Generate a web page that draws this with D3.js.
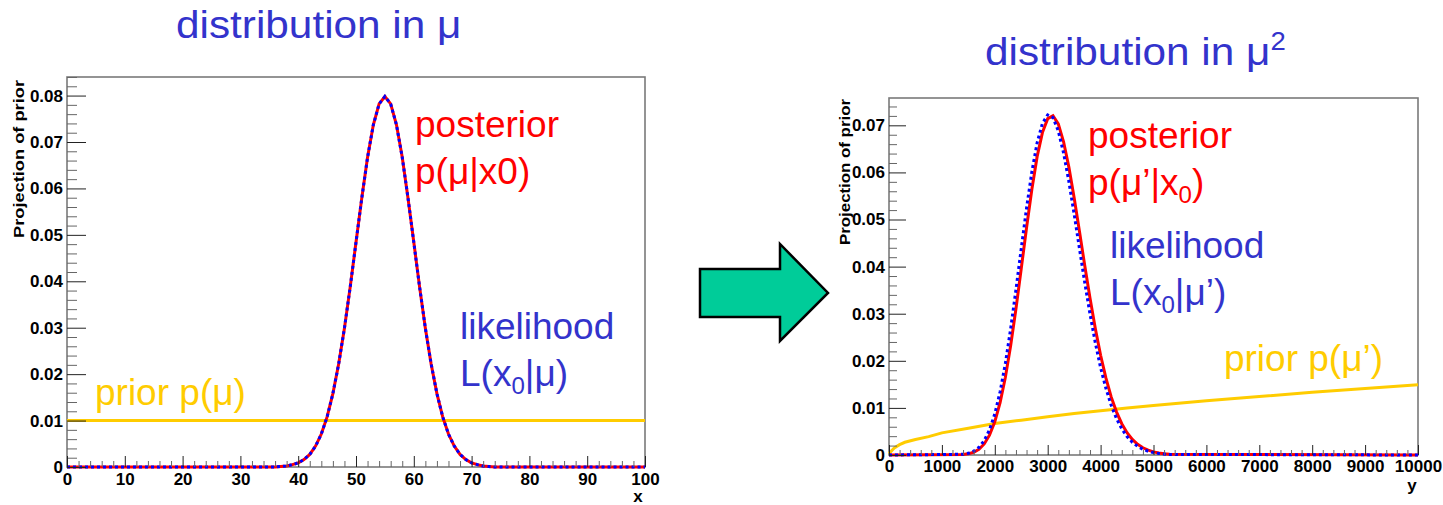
<!DOCTYPE html>
<html><head><meta charset="utf-8">
<script src="https://cdn.jsdelivr.net/npm/d3@7"></script>
<style>
body{margin:0;background:#fff;}
svg text{font-family:"Liberation Sans",Arial,Helvetica,sans-serif;}
</style></head><body>
<svg id="c" width="1443" height="505"></svg>
<script>
// ---------- data: left panel (distribution in mu) ----------
const muX = [0,36,37,38,39,40,41,42,43,44,45,46,47,48,49,50,51,52,53,54,55,56,57,58,59,60,61,62,63,64,65,66,67,68,69,70,71,72,73,74,100];
const posteriorMu = [0,0,0.0001,0.0002,0.0005,0.0009,0.0016,0.0027,0.0045,0.0071,0.0108,0.0158,0.0222,0.0299,0.0388,0.0484,0.0579,0.0667,0.0737,0.0782,0.0798,0.0782,0.0737,0.0667,0.0579,0.0484,0.0388,0.0299,0.0222,0.0158,0.0108,0.0071,0.0045,0.0027,0.0016,0.0009,0.0005,0.0002,0.0001,0,0];
const likelihoodMu = [0,0,0.0001,0.0002,0.0005,0.0009,0.0016,0.0027,0.0045,0.0071,0.0108,0.0158,0.0222,0.0299,0.0388,0.0484,0.0579,0.0667,0.0737,0.0782,0.0798,0.0782,0.0737,0.0667,0.0579,0.0484,0.0388,0.0299,0.0222,0.0158,0.0108,0.0071,0.0045,0.0027,0.0016,0.0009,0.0005,0.0002,0.0001,0,0];
const priorMuX = [0,100];
const priorMu = [0.01,0.01];
const xTicksL = [0,10,20,30,40,50,60,70,80,90,100];
const xTickLabelsL = ["0","10","20","30","40","50","60","70","80","90","100"];
const yTicksL = [0,0.01,0.02,0.03,0.04,0.05,0.06,0.07,0.08];
const yTickLabelsL = ["0","0.01","0.02","0.03","0.04","0.05","0.06","0.07","0.08"];

// ---------- data: right panel (distribution in mu^2) ----------
const mu2X = [0,1400,1500,1600,1700,1800,1900,2000,2100,2200,2300,2400,2500,2600,2700,2800,2900,3000,3100,3200,3300,3400,3500,3600,3700,3800,3900,4000,4100,4200,4300,4400,4500,4600,4700,4800,4900,5000,5100,5200,5300,10000];
const likelihoodMu2 = [0,0.00015,0.00036,0.0008,0.00163,0.00307,0.00535,0.00874,0.01342,0.01947,0.02684,0.03512,0.04385,0.05242,0.0601,0.0663,0.07041,0.07222,0.07163,0.06882,0.06412,0.05807,0.05115,0.04385,0.03663,0.02993,0.02383,0.01854,0.01416,0.01055,0.00774,0.00555,0.0039,0.0027,0.00183,0.00122,0.0008,0.00052,0.00033,0.00021,0.00013,0];
const posteriorMu2 = [0,0.0001,0.00025,0.00058,0.00121,0.00235,0.00421,0.00706,0.0111,0.01649,0.02324,0.03106,0.03959,0.04826,0.05638,0.06335,0.06846,0.07142,0.07202,0.0703,0.06651,0.06113,0.05463,0.0475,0.04023,0.03331,0.02687,0.02117,0.01637,0.01234,0.00916,0.00664,0.00473,0.0033,0.00227,0.00153,0.00102,0.00066,0.00043,0.00027,0.00017,0];
const priorMu2X = [0,100,200,300,500,750,1000,1500,2000,2500,3000,3500,4000,4500,5000,6000,7000,8000,9000,10000];
const priorMu2 = [0.0003,0.0015,0.0022,0.0027,0.0033,0.0039,0.0047,0.0057,0.0067,0.0074,0.0081,0.0088,0.0094,0.01,0.0105,0.0115,0.0124,0.0133,0.0141,0.0149];
const xTicksR = [0,1000,2000,3000,4000,5000,6000,7000,8000,9000,10000];
const xTickLabelsR = ["0","1000","2000","3000","4000","5000","6000","7000","8000","9000","10000"];
const yTicksR = [0,0.01,0.02,0.03,0.04,0.05,0.06,0.07];
const yTickLabelsR = ["0","0.01","0.02","0.03","0.04","0.05","0.06","0.07"];

const BLUE = "#3333cc", RED = "#ff0000", YEL = "#ffcc00";
const svg = d3.select("#c");

function minorTicks(majors, n) {
  const out = [];
  for (let i = 0; i < majors.length - 1; i++) {
    const a = majors[i], b = majors[i+1];
    for (let k = 1; k < n; k++) out.push(a + (b - a) * k / n);
  }
  const step = (majors[1]-majors[0]) / n;
  return out.concat([majors[majors.length-1] + step, majors[majors.length-1] + 2*step, majors[majors.length-1] + 3*step]);
}

function panel(cfg) {
  const x = d3.scaleLinear().domain(cfg.xDom).range(cfg.xR);
  const y = d3.scaleLinear().domain(cfg.yDom).range(cfg.yR);
  const g = svg.append("g");

  g.append("rect").attr("x", cfg.xR[0]).attr("y", cfg.yR[1])
    .attr("width", cfg.xR[1]-cfg.xR[0]).attr("height", cfg.yR[0]-cfg.yR[1])
    .attr("fill", "none").attr("stroke", "#7a7a7a").attr("stroke-width", 1.6);

  const line = (xs, ys) => d3.line().x((d,i)=>x(xs[i])).y((d,i)=>y(ys[i]))(ys);
  g.append("path").attr("d", line(cfg.priorX, cfg.prior)).attr("fill","none")
    .attr("stroke", YEL).attr("stroke-width", 3);
  g.append("path").attr("d", line(cfg.curveX, cfg.post)).attr("fill","none")
    .attr("stroke", RED).attr("stroke-width", 3);
  g.append("path").attr("d", line(cfg.curveX, cfg.like)).attr("fill","none")
    .attr("stroke", "#0000ff").attr("stroke-width", 3).attr("stroke-dasharray", "3,3");

  const yMin = minorTicks(cfg.yTicks, 5).filter(v => v <= cfg.yDom[1]);
  g.append("g").attr("transform", `translate(${cfg.xR[0]},0)`)
    .call(d3.axisLeft(y).tickValues(yMin).tickSize(-cfg.yMinLen).tickFormat(""))
    .call(s => { s.select(".domain").remove(); s.selectAll("line").attr("stroke","#666"); s.selectAll("text").remove(); });
  g.append("g").attr("transform", `translate(${cfg.xR[0]},0)`)
    .call(d3.axisLeft(y).tickValues(cfg.yTicks).tickSize(-cfg.yMajLen).tickPadding(4)
      .tickFormat((d,i)=>cfg.yLabels[i]))
    .call(s => { s.select(".domain").remove(); s.selectAll("line").attr("stroke","#222");
      s.selectAll("text").attr("font-size", 17).attr("font-weight","bold").attr("fill","#000")
        .attr("font-family","Liberation Sans, Arial, sans-serif"); });

  const xMin = minorTicks(cfg.xTicks, 5).filter(v => v <= cfg.xDom[1]);
  g.append("g").attr("transform", `translate(0,${cfg.yR[0]})`)
    .call(d3.axisBottom(x).tickValues(xMin).tickSize(-cfg.xMinLen).tickFormat(""))
    .call(s => { s.select(".domain").remove(); s.selectAll("line").attr("stroke","#666"); s.selectAll("text").remove(); });
  g.append("g").attr("transform", `translate(0,${cfg.yR[0]})`)
    .call(d3.axisBottom(x).tickValues(cfg.xTicks).tickSize(-cfg.xMajLen).tickPadding(cfg.xPad)
      .tickFormat((d,i)=>cfg.xLabels[i]))
    .call(s => { s.select(".domain").remove(); s.selectAll("line").attr("stroke","#222");
      s.selectAll("text").attr("font-size", 17).attr("font-weight","bold").attr("fill","#000")
        .attr("font-family","Liberation Sans, Arial, sans-serif"); });

  g.append("text").attr("x", cfg.xTitlePos[0]).attr("y", cfg.xTitlePos[1])
    .attr("text-anchor","middle").attr("font-size",17).attr("font-weight","bold").text(cfg.xTitle);
  g.append("text").attr("transform", `translate(${cfg.yTitlePos[0]},${cfg.yTitlePos[1]}) rotate(-90)`)
    .attr("text-anchor","end").attr("font-size",15.5).attr("font-weight","bold")
    .attr("textLength", cfg.yTitleLen).attr("lengthAdjust","spacingAndGlyphs")
    .text("Projection of prior");
  return g;
}

panel({
  xDom:[0,100], xR:[67,645], yDom:[0,0.084], yR:[467,77],
  curveX: muX, post: posteriorMu, like: likelihoodMu, priorX: priorMuX, prior: priorMu,
  xTicks: xTicksL, xLabels: xTickLabelsL, yTicks: yTicksL, yLabels: yTickLabelsL,
  yMajLen: 19, yMinLen: 10, xMajLen: 11, xMinLen: 6, xPad: 6,
  xTitle: "x", xTitlePos: [638, 502], yTitlePos: [24, 80], yTitleLen: 158
});
panel({
  xDom:[0,10000], xR:[889,1418], yDom:[0,0.0758], yR:[455,98],
  curveX: mu2X, post: posteriorMu2, like: likelihoodMu2, priorX: priorMu2X, prior: priorMu2,
  xTicks: xTicksR, xLabels: xTickLabelsR, yTicks: yTicksR, yLabels: yTickLabelsR,
  yMajLen: 17, yMinLen: 8, xMajLen: 10, xMinLen: 5, xPad: 5,
  xTitle: "y", xTitlePos: [1412, 491], yTitlePos: [850, 99], yTitleLen: 146
});

// ---------- titles & annotations ----------
function label(xp, yp, color, size, parts, opts) {
  opts = opts || {};
  const g = svg.append("g").attr("transform", `translate(${xp},${yp}) scale(${opts.sx || 1},1)`);
  const t = g.append("text").attr("x", 0).attr("y", 0).attr("fill", color).attr("font-size", size)
    .attr("text-anchor", opts.anchor || "start");
  let shift = 0;
  parts.forEach(p => {
    if (typeof p === "string") {
      const ts = t.append("tspan").text(p);
      if (shift) { ts.attr("dy", -shift); shift = 0; }
    } else if (p.sub) {
      t.append("tspan").attr("font-size", size*0.65).attr("dy", size*0.22).text(p.sub);
      shift = size*0.22;
    } else if (p.sup) {
      t.append("tspan").attr("font-size", size*0.65).attr("dy", -size*0.38).text(p.sup);
      shift = -size*0.38;
    }
  });
  return t;
}
label(176, 38, BLUE, 39, ["distribution in μ"], {sx: 1.085});
label(985, 65, BLUE, 39, ["distribution in μ", {sup:"2"}], {sx: 1.085});

label(415, 137, RED, 37, ["posterior"]);
label(415, 184, RED, 37, ["p(μ|x0)"]);
label(460, 339, BLUE, 37, ["likelihood"]);
label(460, 386, BLUE, 37, ["L(x", {sub:"0"}, "|μ)"]);
label(95, 405, YEL, 37, ["prior p(μ)"]);

label(1088, 148, RED, 37, ["posterior"]);
label(1088, 195, RED, 37, ["p(μ’|x", {sub:"0"}, ")"]);
label(1110, 258, BLUE, 37, ["likelihood"]);
label(1110, 305, BLUE, 37, ["L(x", {sub:"0"}, "|μ’)"]);
label(1383, 371, YEL, 37, ["prior p(μ’)"], {anchor: "end"});

// ---------- arrow between the panels ----------
svg.append("path")
  .attr("d", "M700,269 L780,269 L780,244 L828,293 L780,341 L780,317 L700,317 Z")
  .attr("fill", "#00cc99").attr("stroke", "#000").attr("stroke-width", 2.5).attr("stroke-linejoin","miter");
</script>
</body></html>
